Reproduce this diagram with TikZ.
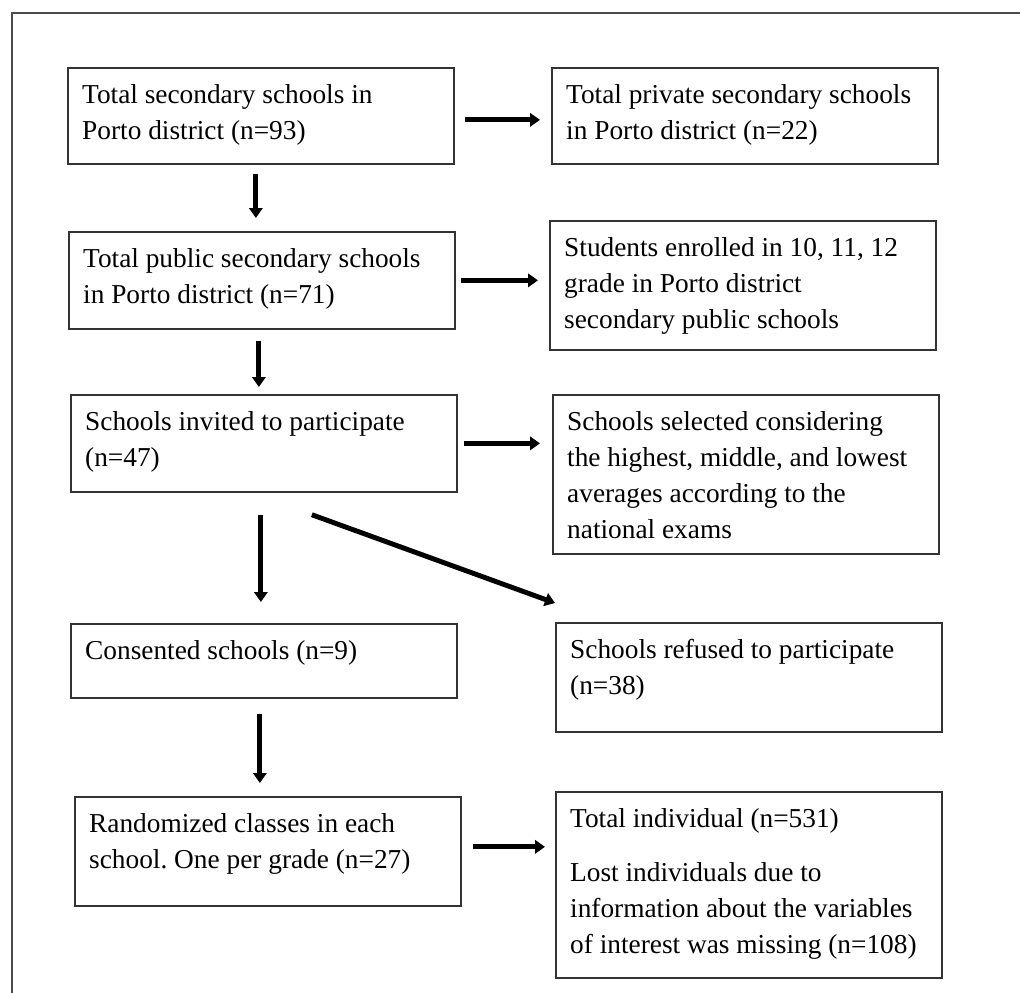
\documentclass[tikz,border=0pt]{standalone}
\usepackage{fontspec}
\setmainfont{Liberation Serif}
\usetikzlibrary{arrows.meta,calc}
\frenchspacing
\newlength{\pxu}\setlength{\pxu}{0.75pt}
\newcommand{\boxtext}[2]{\parbox[t][#1\pxu][t]{268pt}{\raggedright\rule{0pt}{20.5pt}#2}}
\tikzset{box/.style={draw=black!80, line width=1.3pt, anchor=north west, inner xsep=10.75pt, inner ysep=5.85pt, font=\fontsize{20.5pt}{27pt}\selectfont}}
\tikzset{arr/.style={line width=3.7pt, -{Triangle[length=7.5pt,width=10pt]}}}
\begin{document}
\begin{tikzpicture}[x=0.75pt,y=-0.75pt]
  \useasboundingbox (0,0) rectangle (1020,992);
  \draw[black!70, line width=1.5pt] (12,1010) |- (1030,13);
  \node[box] (b1) at (67,67) {\boxtext{80.4}{Total secondary schools in\\ Porto district (n=93)}};
  \node[box] (r1) at (551,67) {\boxtext{80.4}{Total private secondary schools\\ in Porto district (n=22)}};
  \node[box] (b2) at (68,231) {\boxtext{81.4}{Total public secondary schools\\ in Porto district (n=71)}};
  \node[box] (r2) at (549,220) {\boxtext{113.4}{Students enrolled in 10, 11, 12\\ grade in Porto district\\ secondary public schools}};
  \node[box] (b3) at (70,394) {\boxtext{81.4}{Schools invited to participate\\ (n=47)}};
  \node[box] (r3) at (552,394) {\boxtext{143.4}{Schools selected considering\\ the highest, middle, and lowest\\ averages according to the\\ national exams}};
  \node[box] (b4) at (70,623) {\boxtext{58.4}{Consented schools (n=9)}};
  \node[box] (r4) at (555,622) {\boxtext{93.4}{Schools refused to participate\\ (n=38)}};
  \node[box] (b5) at (74,796) {\boxtext{93.4}{Randomized classes in each\\ school. One per grade (n=27)}};
  \node[box] (r5) at (555,791) {\boxtext{170.4}{Total individual (n=531)\\[13.5pt] Lost individuals due to\\ information about the variables\\ of interest was missing (n=108)}};
  \draw[arr, shorten <=7.5pt, shorten >=8.25pt] ([yshift=-3pt]b1.east) -- ([yshift=-3pt]b1.east -| r1.west);
  \draw[arr, shorten <=3.75pt, shorten >=8.25pt] (b2.east) -- (b2.east -| r2.west);
  \draw[arr, shorten <=4.5pt, shorten >=9pt] (b3.east) -- (b3.east -| r3.west);
  \draw[arr, shorten <=8.25pt, shorten >=7.5pt] ([yshift=3.4pt]b5.east) -- ([yshift=3.4pt]b5.east -| r5.west);
  \draw[arr, shorten <=6.75pt, shorten >=9.75pt] ([xshift=-3.75pt]b1.south) -- ([xshift=-3.75pt]b1.south |- b2.north);
  \draw[arr, shorten <=8.25pt, shorten >=5.25pt] ([xshift=-2.25pt]b2.south) -- ([xshift=-2.25pt]b2.south |- b3.north);
  \draw[arr, shorten <=16.5pt, shorten >=15.75pt] ([xshift=-2.25pt]b3.south) -- ([xshift=-2.25pt]b3.south |- b4.north);
  \draw[arr, shorten <=11.25pt, shorten >=9.75pt] ([xshift=-3pt]b4.south) -- ([xshift=-3pt]b4.south |- b5.north);
  \draw[arr] ([shift={(48,22)}]b3.south) -- ([shift={(0,-19)}]r4.north west);
\end{tikzpicture}
\end{document}
